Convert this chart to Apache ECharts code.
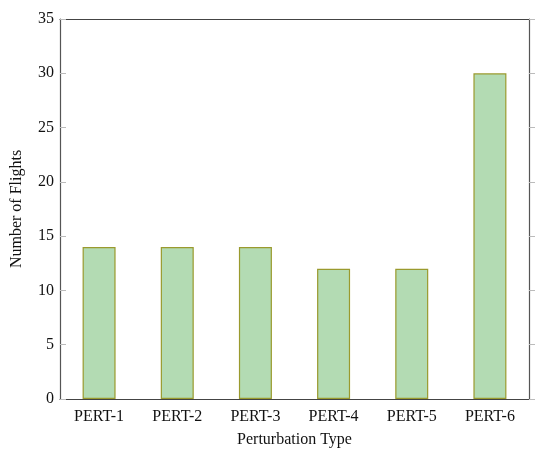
<!DOCTYPE html>
<html><head><meta charset="utf-8">
<script src="https://cdn.jsdelivr.net/npm/echarts@6/dist/echarts.min.js"></script>
<style>html,body{margin:0;padding:0;background:#fff}#c{width:550px;height:455px}</style>
</head><body><div id="c"></div>
<script>
const categories = ['PERT-1','PERT-2','PERT-3','PERT-4','PERT-5','PERT-6'];
const flights = [14, 14, 14, 12, 12, 30];
const yTicks = { min: 0, max: 35, interval: 5 };

const font = '"Liberation Serif", "DejaVu Serif", serif';
const chart = echarts.init(document.getElementById('c'));
chart.setOption({
  animation: false,
  grid: { left: 60, right: 21, top: 19, bottom: 56, show: false },
  xAxis: [
    { type: 'category', data: categories, position: 'bottom',
      name: 'Perturbation Type', nameLocation: 'middle', nameGap: 33,
      nameTextStyle: { fontFamily: font, fontSize: 16, color: '#111' },
      axisLine: { onZero: false, lineStyle: { color: '#444', width: 1.2 } },
      axisTick: { alignWithLabel: true, length: 6, lineStyle: { color: '#bbb' } },
      axisLabel: { fontFamily: font, fontSize: 16, color: '#111', margin: 10 } },
    { type: 'category', data: categories, position: 'top',
      axisLine: { onZero: false, lineStyle: { color: '#444', width: 1.2 } },
      axisTick: { alignWithLabel: true, length: 6, lineStyle: { color: '#bbb' } },
      axisLabel: { show: false } }
  ],
  yAxis: [
    { type: 'value', min: yTicks.min, max: yTicks.max, interval: yTicks.interval, position: 'left',
      name: 'Number of Flights', nameLocation: 'middle', nameGap: 35,
      nameTextStyle: { fontFamily: font, fontSize: 16, color: '#111' },
      axisLine: { show: true, onZero: false, lineStyle: { color: '#555', width: 1.2 } },
      axisTick: { show: true, inside: true, length: 6, lineStyle: { color: '#bbb' } },
      splitLine: { show: false },
      axisLabel: { fontFamily: font, fontSize: 16, color: '#111', margin: 6 } },
    { type: 'value', min: yTicks.min, max: yTicks.max, interval: yTicks.interval, position: 'right',
      axisLine: { show: true, onZero: false, lineStyle: { color: '#555', width: 1.2 } },
      axisTick: { show: true, length: 6, lineStyle: { color: '#bbb' } },
      splitLine: { show: false },
      axisLabel: { show: false } }
  ],
  series: [{
    type: 'bar', data: flights, barWidth: 33,
    itemStyle: { color: '#b3dbb3', borderColor: '#9a9a2e', borderWidth: 1.2 }
  }]
});
</script></body></html>
